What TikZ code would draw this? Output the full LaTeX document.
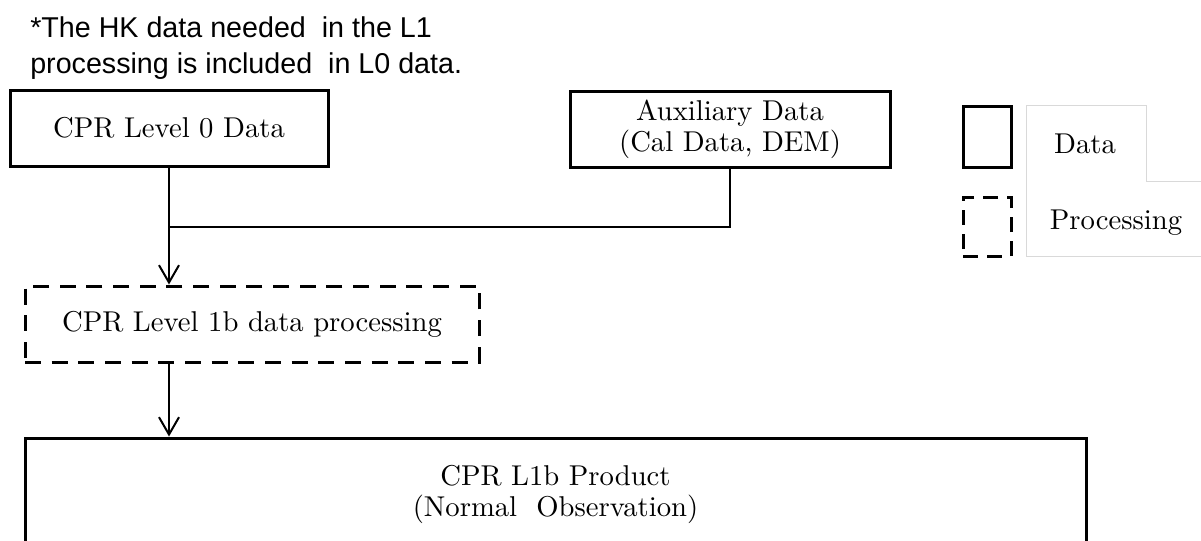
\documentclass[tikz,border=0pt]{standalone}
\usepackage{fontspec}
\setmainfont{lmroman10-regular.otf}
\newfontfamily\notefont{Liberation Sans}
\usepackage{tikz}
\usetikzlibrary{arrows.meta}

\begin{document}
\begin{tikzpicture}[
    x=0.75pt, y=-0.75pt,
    font=\fontsize{21.5pt}{23.25pt}\selectfont,
    box/.style={draw, line width=2.25pt, align=center, inner sep=0pt},
    procbox/.style={box, dash pattern=on 12pt off 8pt},
    grid/.style={draw=black!15, line width=0.75pt},
    link/.style={line width=1.5pt},
    arr/.style={link, -{Straight Barb[length=13pt, width=15pt]}}
  ]
    \useasboundingbox (0,0) rectangle (1201,540);

    \node[anchor=north west, align=left, inner sep=0pt,
          font=\notefont\fontsize{21.5pt}{27pt}\selectfont] (note) at (30,16)
      {*The HK data needed\ \ in the L1\\processing is included\ \ in L0 data.};

    \node[box, minimum width=238.5pt, minimum height=57pt] (l0) at (169,128)
      {CPR Level 0 Data};
    \node[box, minimum width=240pt, minimum height=57pt] (aux) at (730,129)
      {Auxiliary Data\\(Cal Data, DEM)};

    \node[procbox, minimum width=340.5pt, minimum height=57pt] (proc) at (252,324)
      {CPR Level 1b data processing};

    \node[box, minimum width=795.75pt, minimum height=84pt] (prod) at (555.5,494)
      {CPR L1b Product\\(Normal\ \ Observation)};

    % legend
    \draw[grid] (1201,256) -- (1026,256) -- (1026,105) -- (1146,105)
      -- (1146,181) -- (1201,181);
    \node[box, minimum width=36pt, minimum height=45.75pt] (kd) at (987,136.5) {};
    \node[procbox, dash pattern=on 11pt off 7pt, minimum width=36pt,
          minimum height=44.25pt] (kp) at (987,226.5) {};
    \node[anchor=base] (kdtxt) at (1085,153) {Data};
    \node[anchor=base] (kptxt) at (1116,229) {Processing};

    \coordinate (join) at (l0.south |- 0,227);
    \draw[arr] (l0.south) -- (l0.south |- proc.north);
    \draw[link] (aux.south) |- (join);
    \draw[arr] (l0.south |- proc.south) -- (l0.south |- prod.north);
  \end{tikzpicture}
\end{document}
